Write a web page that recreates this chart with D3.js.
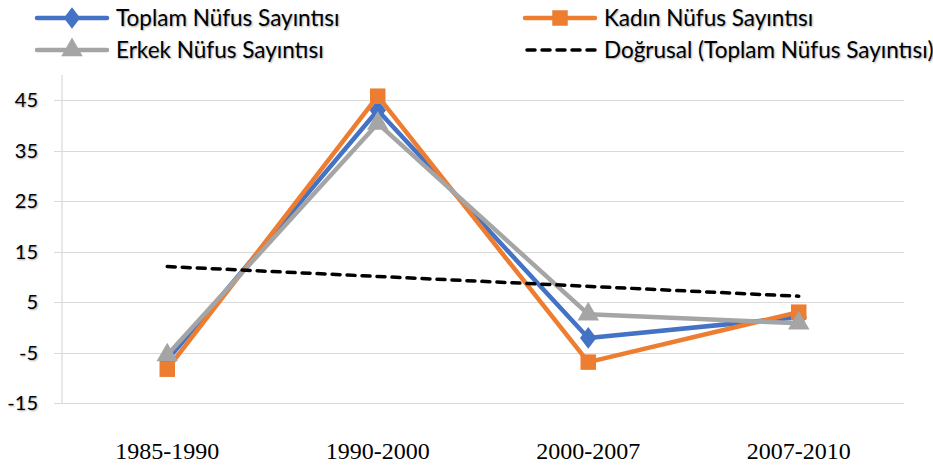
<!DOCTYPE html>
<html><head><meta charset="utf-8">
<script src="https://cdn.jsdelivr.net/npm/d3@7"></script>
<style>
body{margin:0;background:#fff;}
svg text.sh{ text-shadow: 1px 1px 2px rgba(0,0,0,0.35); }
</style></head>
<body><svg id="c" width="933" height="466"></svg>
<script>
const categories = ["1985-1990","1990-2000","2000-2007","2007-2010"];
const toplam = [-6.5, 43.0, -2.1, 2.0];
const kadin = [-8.3, 45.8, -6.9, 3.0];
const erkek = [-5.5, 40.4, 2.6, 0.8];
const yTicks = [-15,-5,5,15,25,35,45];
const seriesNames = ["Toplam Nüfus Sayıntısı","Kadın Nüfus Sayıntısı","Erkek Nüfus Sayıntısı","Doğrusal (Toplam Nüfus Sayıntısı)"];

const svg = d3.select("#c");
const L=62, R=904, T=75, B=403;
const x = d3.scaleBand().domain(categories).range([L,R]);
const y = d3.scaleLinear().domain([-15,50]).range([B,T]);
const cx = c => x(c)+x.bandwidth()/2;

// gridlines
svg.append("g").selectAll("line").data(yTicks).join("line")
  .attr("x1",L-8).attr("x2",R).attr("y1",d=>Math.round(y(d))+0.5).attr("y2",d=>Math.round(y(d))+0.5)
  .attr("stroke","#d9d9d9").attr("stroke-width",1.2);
svg.append("line").attr("x1",L).attr("x2",L).attr("y1",T).attr("y2",B).attr("stroke","#d9d9d9").attr("stroke-width",1.2);

// y labels
svg.append("g").selectAll("text").data(yTicks).join("text").attr("class","sh")
  .attr("x",38).attr("y",d=>y(d)+7).attr("text-anchor","end")
  .attr("font-family","Lato, 'Open Sans', sans-serif").attr("font-size",20).attr("fill","#000")
  .text(d=>d);

// x labels
svg.append("g").selectAll("text").data(categories).join("text")
  .attr("x",d=>cx(d)).attr("y",459).attr("text-anchor","middle")
  .attr("font-family","'Liberation Serif', 'Times New Roman', serif").attr("font-size",24).attr("fill","#000")
  .text(d=>d);

const line = d3.line().x((d,i)=>cx(categories[i])).y(d=>y(d));
const colors = ["#4472C4","#ED7D31","#A5A5A5"];
const data = [toplam,kadin,erkek];
const symbols = [d3.symbolDiamond, d3.symbolSquare, d3.symbolTriangle];
const sizes = [150, 240, 200];

function drawMarker(g, sym, size, px, py, col, i){
  let s = d3.symbol().type(sym).size(size)();
  let tr = `translate(${px},${py})`;
  if(i===0) tr += " scale(1.25,0.95)";
  g.append("path").attr("d",s).attr("transform",tr).attr("fill",col);
}

data.forEach((vals,k)=>{
  const g = svg.append("g");
  g.append("path").datum(vals).attr("d",line).attr("fill","none")
    .attr("stroke",colors[k]).attr("stroke-width",4.5).attr("stroke-linejoin","round").attr("stroke-linecap","round");
  vals.forEach((v,i)=>drawMarker(g, symbols[k], sizes[k], cx(categories[i]), y(v), colors[k], k));
});

// linear trend of toplam (least squares)
const n = toplam.length;
const xs = d3.range(1,n+1);
const mx = d3.mean(xs), my = d3.mean(toplam);
const slope = d3.sum(xs.map((xi,i)=>(xi-mx)*(toplam[i]-my)))/d3.sum(xs.map(xi=>(xi-mx)**2));
const icpt = my - slope*mx;
const trend = [icpt+slope*1, icpt+slope*n];
svg.append("line").attr("x1",cx(categories[0])).attr("x2",cx(categories[n-1]))
  .attr("y1",y(trend[0])).attr("y2",y(trend[1]))
  .attr("stroke","#000").attr("stroke-width",3.5).attr("stroke-dasharray","8,7").attr("stroke-linecap","round");

// legend
const legend = [
  {lx:37, ly:18, k:0},
  {lx:525, ly:18, k:1},
  {lx:37, ly:50, k:2},
  {lx:525, ly:50, k:3}
];
legend.forEach(o=>{
  const g = svg.append("g");
  if(o.k<3){
    g.append("line").attr("x1",o.lx).attr("x2",o.lx+70).attr("y1",o.ly).attr("y2",o.ly)
      .attr("stroke",colors[o.k]).attr("stroke-width",4.5).attr("stroke-linecap","round");
    drawMarker(g, symbols[o.k], sizes[o.k], o.lx+35, o.ly, colors[o.k], o.k);
  } else {
    g.append("line").attr("x1",o.lx+2).attr("x2",o.lx+70).attr("y1",o.ly).attr("y2",o.ly)
      .attr("stroke","#000").attr("stroke-width",3.5).attr("stroke-dasharray","8,7").attr("stroke-linecap","round");
  }
  g.append("text").attr("class","sh").attr("x",o.lx+79).attr("y",o.ly+8)
    .attr("font-family","Lato, 'Open Sans', sans-serif").attr("font-size",22.5).attr("fill","#000")
    .text(seriesNames[o.k]);
});
</script></body></html>
